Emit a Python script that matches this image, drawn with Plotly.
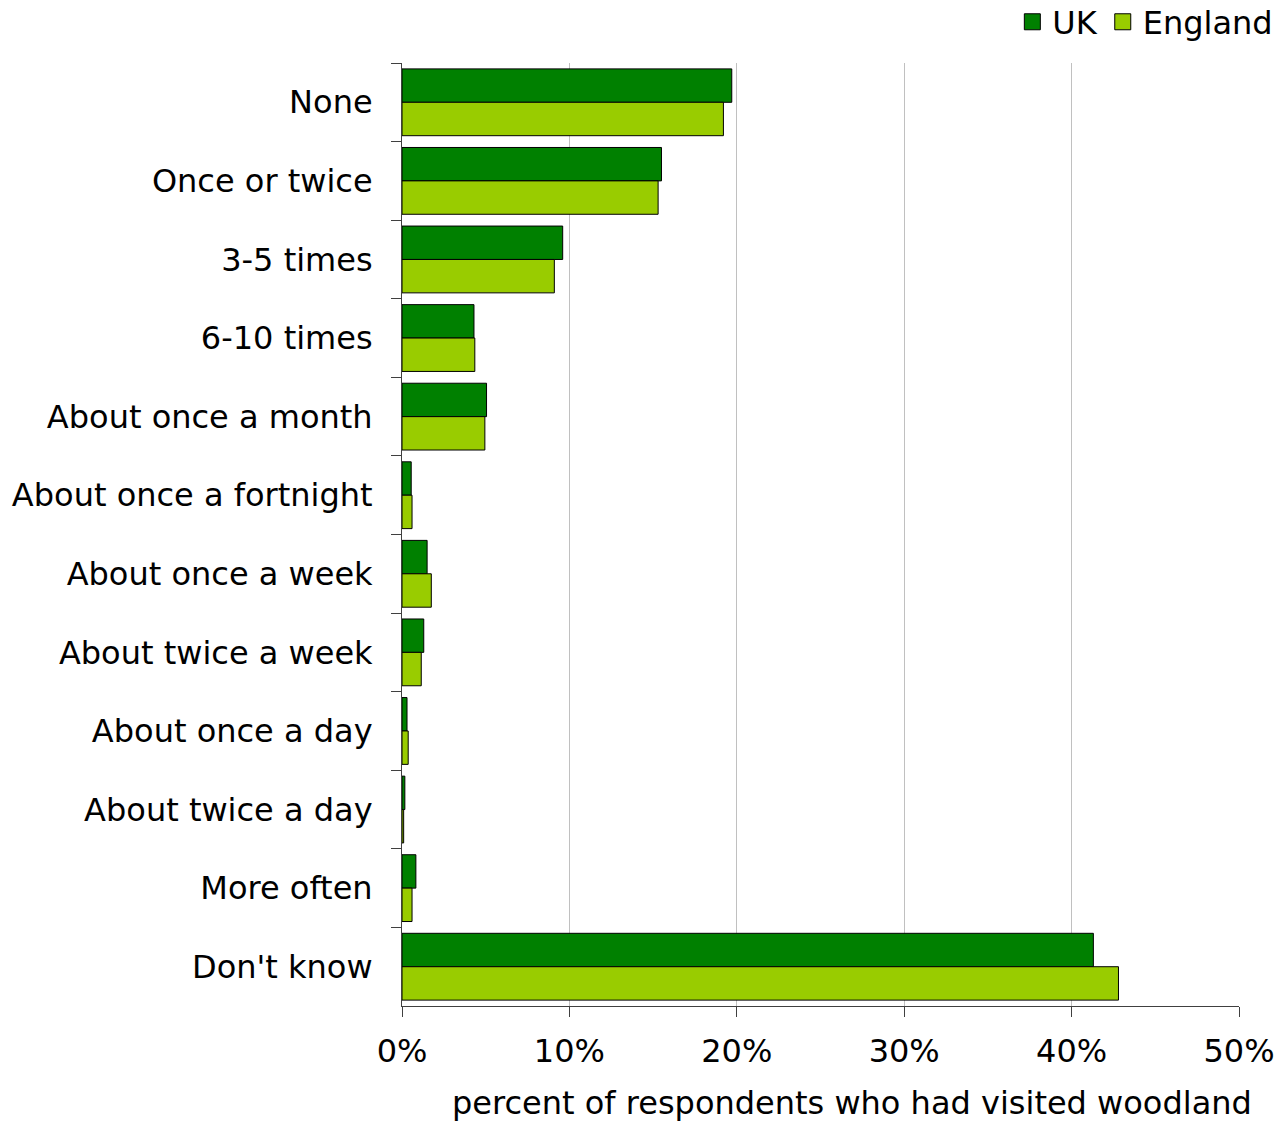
import plotly.graph_objects as go

# Frequency of woodland visits
categories = [
    "None", "Once or twice", "3-5 times", "6-10 times", "About once a month",
    "About once a fortnight", "About once a week", "About twice a week",
    "About once a day", "About twice a day", "More often", "Don't know",
]
uk_values = [19.7, 15.5, 9.6, 4.3, 5.05, 0.55, 1.5, 1.3, 0.3, 0.17, 0.83, 41.3]
england_values = [19.2, 15.3, 9.1, 4.35, 4.95, 0.6, 1.75, 1.15, 0.37, 0.1, 0.6, 42.8]

series_names = ["UK", "England"]
series_colors = ["#008000", "#99CC00"]

x_tick_vals = [0, 10, 20, 30, 40, 50]
x_tick_text = ["0%", "10%", "20%", "30%", "40%", "50%"]

FONT = "DejaVu Sans"
FS = 32

fig = go.Figure()
for name, vals, col in zip(series_names, [uk_values, england_values], series_colors):
    fig.add_trace(go.Bar(
        name=name, y=categories, x=vals, orientation="h",
        marker=dict(color=col, line=dict(color="#000000", width=1)),
        showlegend=False,
    ))

# legend entries drawn as outlined squares
for name, col in zip(series_names, series_colors):
    fig.add_trace(go.Scatter(
        name=name, x=[None], y=[None], mode="markers",
        marker=dict(symbol="square", size=16, color=col,
                    line=dict(color="#000000", width=1)),
        showlegend=True,
    ))

fig.update_layout(
    width=1288, height=1122,
    margin=dict(l=402, r=49, t=63, b=116, autoexpand=False),
    paper_bgcolor="white", plot_bgcolor="white",
    barmode="group", bargap=0.15, bargroupgap=0,
    font=dict(family=FONT, size=FS, color="#000000"),
    legend=dict(
        orientation="h", x=1.047, xanchor="right", y=1.0435, yanchor="middle",
        font=dict(size=FS), itemwidth=30, tracegroupgap=0,
        bgcolor="rgba(0,0,0,0)",
    ),
    showlegend=True,
)

fig.update_xaxes(
    range=[0, 50], tickvals=x_tick_vals, ticktext=x_tick_text,
    showgrid=True, gridcolor="#c0c0c0", gridwidth=1,
    showline=True, linecolor="#404040", linewidth=1,
    ticks="outside", ticklen=10, tickcolor="#404040",
    ticklabelstandoff=7, zeroline=False,
)
fig.update_yaxes(
    autorange="reversed", categoryorder="array", categoryarray=categories,
    showgrid=False, showline=True, linecolor="#404040", linewidth=1,
    ticks="outside", ticklen=10, tickcolor="#404040", tickson="boundaries",
    ticklabelstandoff=22,
)

fig.add_annotation(
    text="percent of respondents who had visited woodland",
    xref="paper", yref="paper", x=1.017, y=-0.1025,
    xanchor="right", yanchor="middle", showarrow=False, borderpad=0,
    font=dict(family=FONT, size=FS),
)

fig.write_html("out.html")
